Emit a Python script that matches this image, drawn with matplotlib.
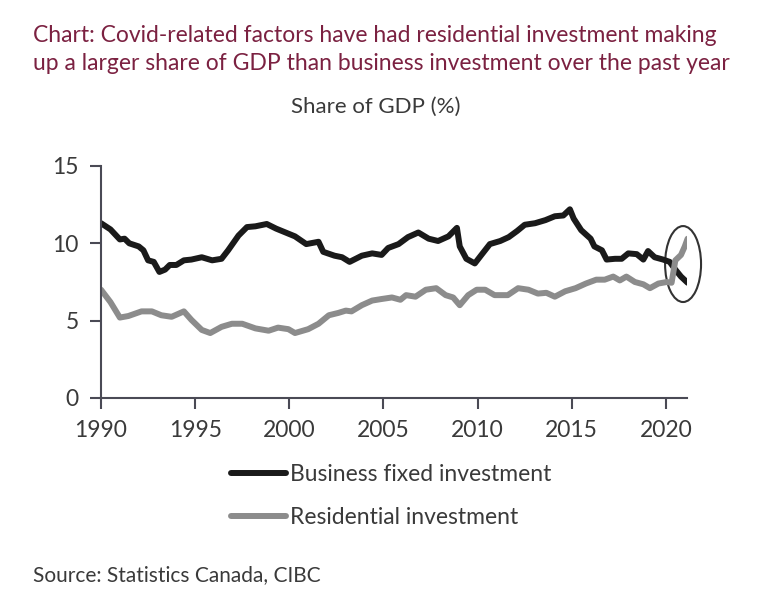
import matplotlib.pyplot as plt
import matplotlib as mpl
from matplotlib.patches import Ellipse

mpl.rcParams['font.family'] = ['Lato', 'DejaVu Sans']

# business fixed investment, share of GDP (%)
bus_years = [1990.0, 1990.5, 1991.0, 1991.25, 1991.5, 1992.0, 1992.25, 1992.5, 1992.8,
             1993.1, 1993.4, 1993.65, 1994.0, 1994.4, 1994.8, 1995.35, 1995.9, 1996.4,
             1996.75, 1997.3, 1997.75, 1998.2, 1998.8, 1999.3, 1999.8, 2000.3, 2000.9,
             2001.55, 2001.8, 2002.4, 2002.8, 2003.2, 2003.85, 2004.4, 2004.9, 2005.25,
             2005.8, 2006.3, 2006.85, 2007.4, 2007.9, 2008.45, 2008.9, 2009.05, 2009.4,
             2009.85, 2010.2, 2010.65, 2011.2, 2011.65, 2012.1, 2012.5, 2013.05, 2013.6,
             2014.1, 2014.55, 2014.9, 2015.1, 2015.5, 2016.0, 2016.2, 2016.6, 2016.85,
             2017.3, 2017.65, 2018.0, 2018.45, 2018.8, 2019.05, 2019.4, 2019.85, 2020.2,
             2020.5, 2020.8, 2021.15]
bus_vals = [11.3, 10.9, 10.25, 10.3, 10.0, 9.8, 9.55, 8.9, 8.8,
            8.15, 8.3, 8.6, 8.6, 8.9, 8.95, 9.1, 8.9, 9.0,
            9.55, 10.5, 11.05, 11.1, 11.25, 10.95, 10.7, 10.45, 9.95,
            10.1, 9.45, 9.2, 9.1, 8.8, 9.2, 9.35, 9.25, 9.7,
            9.95, 10.4, 10.7, 10.3, 10.15, 10.45, 11.0, 9.8, 9.0,
            8.7, 9.25, 9.95, 10.15, 10.4, 10.8, 11.2, 11.3, 11.5,
            11.75, 11.8, 12.2, 11.6, 10.85, 10.3, 9.8, 9.55, 8.95,
            9.0, 9.0, 9.35, 9.3, 8.95, 9.5, 9.1, 8.95, 8.8,
            8.3, 7.85, 7.45]

# residential investment, share of GDP (%)
res_years = [1990.0, 1990.5, 1991.0, 1991.45, 1992.15, 1992.7, 1993.2, 1993.75, 1994.4,
             1994.8, 1995.35, 1995.8, 1996.4, 1996.95, 1997.5, 1998.2, 1998.9, 1999.4,
             1999.95, 2000.3, 2001.0, 2001.55, 2002.1, 2002.6, 2003.0, 2003.3, 2003.85,
             2004.4, 2004.9, 2005.45, 2005.9, 2006.2, 2006.7, 2007.25, 2007.8, 2008.3,
             2008.7, 2009.05, 2009.5, 2009.95, 2010.4, 2010.9, 2011.6, 2012.15, 2012.7,
             2013.2, 2013.65, 2014.1, 2014.65, 2015.2, 2015.75, 2016.3, 2016.75, 2017.2,
             2017.55, 2017.9, 2018.35, 2018.8, 2019.15, 2019.6, 2020.05, 2020.3, 2020.5,
             2020.8, 2021.0, 2021.15]
res_vals = [7.0, 6.2, 5.2, 5.3, 5.6, 5.6, 5.35, 5.25, 5.6,
            5.05, 4.4, 4.2, 4.6, 4.8, 4.8, 4.5, 4.35, 4.55,
            4.45, 4.2, 4.45, 4.8, 5.35, 5.5, 5.65, 5.6, 6.0,
            6.3, 6.4, 6.5, 6.35, 6.65, 6.55, 7.0, 7.1, 6.65,
            6.5, 6.0, 6.65, 7.0, 7.0, 6.65, 6.65, 7.1, 7.0,
            6.75, 6.8, 6.55, 6.9, 7.1, 7.4, 7.65, 7.65, 7.85,
            7.6, 7.85, 7.5, 7.35, 7.1, 7.4, 7.5, 7.45, 8.9,
            9.25, 9.8, 10.3]

year_ticks = [1990, 1995, 2000, 2005, 2010, 2015, 2020]
value_ticks = [0, 5, 10, 15]

fig = plt.figure(figsize=(7.66, 6.08), dpi=100)
ax = fig.add_axes([0.1319, 0.3454, 0.765, 0.3816])

ax.plot(bus_years, bus_vals, color='#1a1a1a', lw=4.3, solid_joinstyle='round',
        solid_capstyle='round', label='Business fixed investment')
ax.plot(res_years, res_vals, color='#8c8c8c', lw=4.3, solid_joinstyle='round',
        solid_capstyle='round', label='Residential investment')

# circle around the covid crossover
ax.add_patch(Ellipse((2020.91, 8.66), 1.91, 4.91, fill=False, ec='#333333',
                     lw=1.5, clip_on=False))

ax.set_xlim(1990, 2021.12)
ax.set_ylim(0, 15)
ax.set_xticks(year_ticks)
ax.set_yticks(value_ticks)
for s in ['top', 'right']:
    ax.spines[s].set_visible(False)
for s in ['left', 'bottom']:
    ax.spines[s].set_color('#4a4a55')
    ax.spines[s].set_linewidth(1.5)
ax.tick_params(direction='out', length=8, width=1.5, color='#4a4a55',
               labelsize=16.5, labelcolor='#3a3a3a', pad=8)

# titles and source
fig.text(0.043, 0.941, 'Chart: Covid-related factors have had residential investment making',
         color='#7b2141', fontsize=16.5, va='center', ha='left')
fig.text(0.043, 0.895, 'up a larger share of GDP than business investment over the past year',
         color='#7b2141', fontsize=16.5, va='center', ha='left')
fig.text(0.49, 0.824, 'Share of GDP (%)', color='#3a3a3a', fontsize=16,
         ha='center', va='center')
fig.text(0.043, 0.054, 'Source: Statistics Canada, CIBC', color='#3a3a3a',
         fontsize=15, ha='left', va='center')

leg = fig.legend(loc='upper left', bbox_to_anchor=(0.289, 0.252), frameon=False,
                 fontsize=16.5, handlelength=2.4, handletextpad=0.2, labelspacing=0.95,
                 labelcolor='#3a3a3a', borderaxespad=0)

fig.savefig('out.png', dpi=100)
